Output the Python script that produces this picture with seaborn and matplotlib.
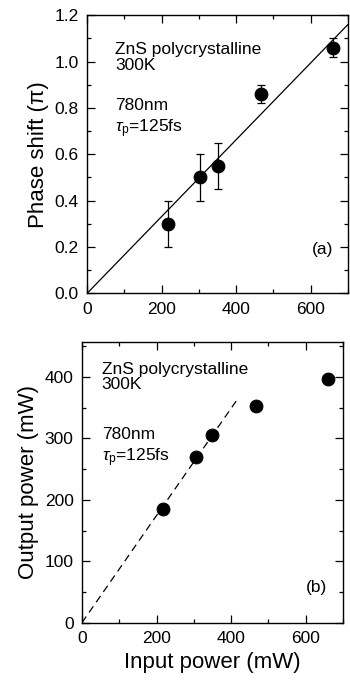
import matplotlib
matplotlib.use("Agg")
import matplotlib.pyplot as plt
from matplotlib.ticker import MultipleLocator
import seaborn as sns
import pandas as pd

sns.set_theme(style="ticks", context="paper")
plt.rcParams['font.family'] = ['Liberation Sans', 'DejaVu Sans']
plt.rcParams['mathtext.fontset'] = 'custom'
plt.rcParams['mathtext.rm'] = 'Liberation Sans'
plt.rcParams['mathtext.it'] = 'Liberation Sans:italic'
plt.rcParams['text.color'] = 'black'
plt.rcParams['axes.labelcolor'] = 'black'
plt.rcParams['xtick.color'] = 'black'
plt.rcParams['ytick.color'] = 'black'

# (a) phase shift vs input power
phase_input = [218, 304, 350, 468, 660]
phase_shift = [0.30, 0.50, 0.55, 0.86, 1.06]
phase_err = [0.10, 0.10, 0.10, 0.04, 0.04]
phase_fit_x = [0, 700]
phase_fit_y = [0, 1.16]

# (b) output power vs input power
out_input = [218, 305, 350, 467, 660]
out_power = [185, 270, 305, 352, 397]
out_fit_x = [0, 415]
out_fit_y = [0, 362]

df_a = pd.DataFrame({'input': phase_input, 'phase': phase_shift})
df_b = pd.DataFrame({'input': out_input, 'output': out_power})

fig = plt.figure(figsize=(3.5, 6.95), dpi=100)
ax1 = fig.add_axes([0.249, 0.578, 0.745, 0.4])
ax2 = fig.add_axes([0.234, 0.104, 0.746, 0.404])

# top panel
ax1.plot(phase_fit_x, phase_fit_y, color='black', linewidth=0.9)
ax1.errorbar(phase_input, phase_shift, yerr=phase_err, fmt='none', ecolor='black',
             elinewidth=0.9, capsize=3, capthick=0.9)
sns.scatterplot(data=df_a, x='input', y='phase', ax=ax1, color='black', s=85,
                edgecolor='black', zorder=3)
ax1.set_xlim(0, 700)
ax1.set_ylim(0, 1.2)
ax1.set_xlabel('')
ax1.set_ylabel('Phase shift (π)', fontsize=16, labelpad=4)
ax1.xaxis.set_major_locator(MultipleLocator(200))
ax1.xaxis.set_minor_locator(MultipleLocator(100))
ax1.yaxis.set_major_locator(MultipleLocator(0.2))
ax1.yaxis.set_minor_locator(MultipleLocator(0.1))
ax1.yaxis.set_major_formatter(plt.FormatStrFormatter('%.1f'))
ax1.text(75, 1.085, 'ZnS polycrystalline\n300K', fontsize=12.5, va='top', linespacing=1.05)
ax1.text(75, 0.845, '780nm\n' + r'$\tau_\mathrm{p}$=125fs', fontsize=12.5, va='top', linespacing=1.3)
ax1.text(662, 0.19, '(a)', fontsize=12.5, ha='right', va='center')

# bottom panel
ax2.plot(out_fit_x, out_fit_y, color='black', linewidth=0.9, linestyle=(0, (6, 4)))
sns.scatterplot(data=df_b, x='input', y='output', ax=ax2, color='black', s=85,
                edgecolor='black', zorder=3)
ax2.set_xlim(0, 700)
ax2.set_ylim(0, 457)
ax2.set_xlabel('Input power (mW)', fontsize=16)
ax2.set_ylabel('Output power (mW)', fontsize=16)
ax2.xaxis.set_major_locator(MultipleLocator(200))
ax2.xaxis.set_minor_locator(MultipleLocator(100))
ax2.yaxis.set_major_locator(MultipleLocator(100))
ax2.yaxis.set_minor_locator(MultipleLocator(50))
ax2.text(53, 425, 'ZnS polycrystalline\n300K', fontsize=12.5, va='top', linespacing=1.05)
ax2.text(53, 318, '780nm\n' + r'$\tau_\mathrm{p}$=125fs', fontsize=12.5, va='top', linespacing=1.3)
ax2.text(658, 58, '(b)', fontsize=12.5, ha='right', va='center')

for ax in (ax1, ax2):
    ax.tick_params(which='both', direction='in', top=True, right=True, labelsize=12.5,
                   color='black', width=0.9)
    ax.tick_params(which='major', length=6, pad=6)
    ax.tick_params(which='minor', length=3)
    for s in ax.spines.values():
        s.set_visible(True)
        s.set_linewidth(1.0)
        s.set_color('black')

fig.savefig('out.png', dpi=100)
